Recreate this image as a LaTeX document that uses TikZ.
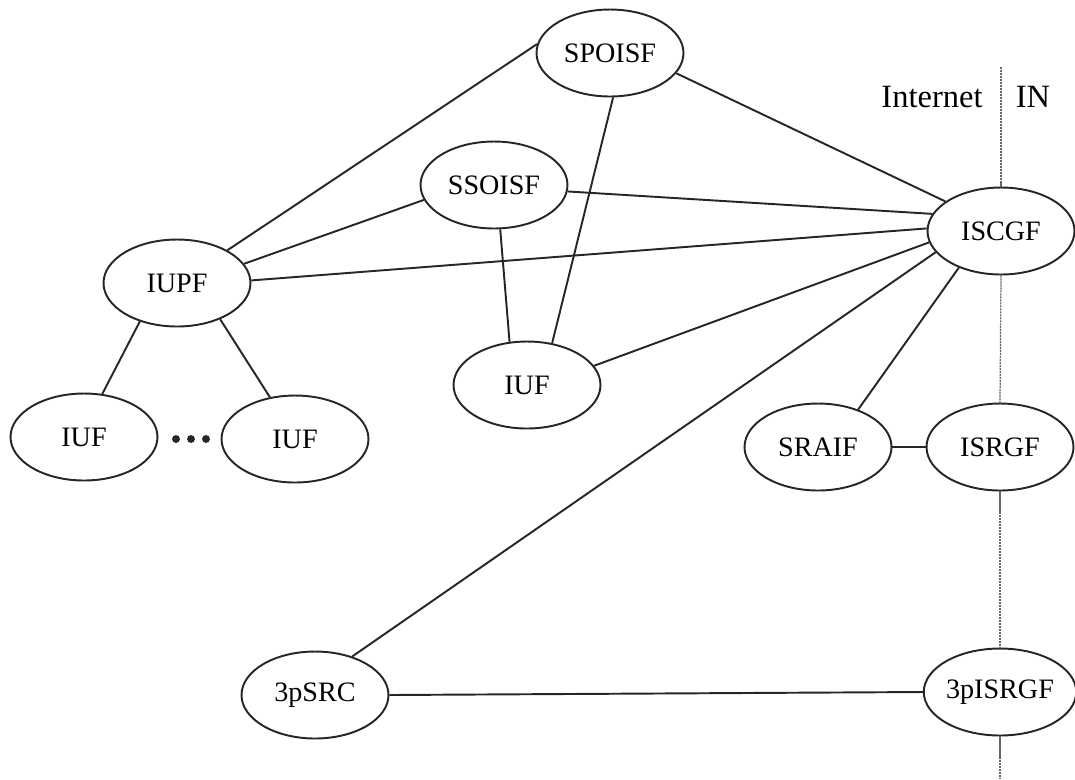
\documentclass[tikz,border=0pt]{standalone}
\usepackage{fontspec}
\setmainfont{Liberation Serif}
\usetikzlibrary{shapes.geometric}

\tikzset{
  fn/.style={ellipse, draw=black!85, line width=1.1pt, minimum width=2.94cm,
             minimum height=1.74cm, inner sep=0pt, font=\fontsize{16}{18}\selectfont},
  link/.style={draw=black!85, line width=1.1pt},
  border/.style={draw=black!60, line width=0.7pt, dash pattern=on 1.2pt off 0.5pt},
  zone/.style={font=\fontsize{18.5}{21}\selectfont, inner sep=0pt},
  dot/.style={circle, fill=black!85, inner sep=0pt, minimum size=4.5pt}
}

\begin{document}
\begin{tikzpicture}[x=0.02cm, y=-0.02cm]
  \useasboundingbox (0,0) rectangle (1075,779);

  % functional entities
  \node[fn] (spo)   at (610,53)  {SPOISF};
  \node[fn] (sso)   at (494,185) {SSOISF};
  \node[fn] (iscgf) at (1001,231) {ISCGF};
  \node[fn] (iupf)  at (177,283) {IUPF};
  \node[fn] (iufm)  at (527,385) {IUF};
  \node[fn] (iufl)  at (84,437)  {IUF};
  \node[fn] (iufr)  at (295,439) {IUF};
  \node[fn] (sraif) at (818,447) {SRAIF};
  \node[fn] (isrgf) at (1000,447) {ISRGF};
  \node[fn] (src)   at (315,695) {3pSRC};
  \node[fn] (tpis)  at (1000,692) {3pISRGF};

  % domain labels and boundary
  \node[zone] (inet) at (932,97) {Internet};
  \node[zone] (in)   at (1033,97) {IN};
  \coordinate (btop) at (1001,67);
  \coordinate (bbot) at (1000,779);
  \draw[border] (btop) -- (iscgf.north);
  \draw[border] (iscgf.south) -- (isrgf.north);
  \draw[border] (isrgf.south) -- (tpis.north);
  \draw[border] (tpis.south) -- (bbot);

  % ellipsis between the user functions
  \node[dot] (d1) at (176,439) {};
  \node[dot] (d2) at (191,439) {};
  \node[dot] (d3) at (206,439) {};

  % connections
  \draw[link] (iupf.33)  -- (spo.173);
  \draw[link] (spo.-17)  -- (iscgf.152);
  \draw[link] (spo.-86)  -- (iufm.59);
  \draw[link] (iupf.16)  -- (sso.192);
  \draw[link] (sso.-5)   -- (iscgf.166);
  \draw[link] (sso.-82)  -- (iufm.112);
  \draw[link] (iupf.2)   -- (iscgf.178);
  \draw[link] (iufm.16)  -- (iscgf.189);
  \draw[link] (iscgf.198) -- (src.46);
  \draw[link] (iscgf.221) -- (sraif.43);
  \draw[link] (sraif.east) -- (isrgf.west);
  \draw[link] (src.east) -- (tpis.west);
  \draw[link] (iupf.226) -- (iufl.67);
  \draw[link] (iupf.-40) -- (iufr.121);
\end{tikzpicture}
\end{document}
